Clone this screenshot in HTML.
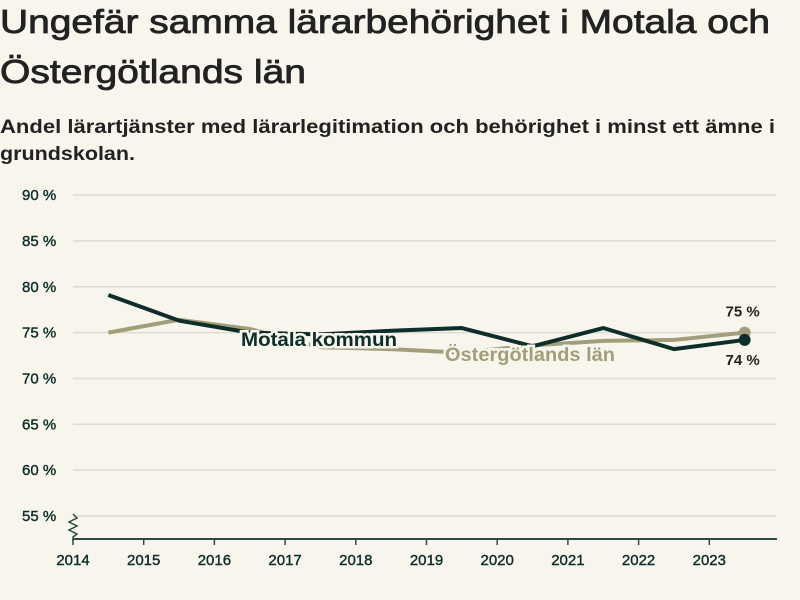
<!DOCTYPE html>
<html><head><meta charset="utf-8"><style>
html,body{margin:0;padding:0;background:#f8f6ec;}
svg{display:block;font-family:"Liberation Sans",sans-serif;}
</style></head><body>
<svg width="800" height="600" viewBox="0 0 800 600">
<rect width="800" height="600" fill="#f8f6ec"/>
<text x="0" y="33" font-size="33" fill="#222" stroke="#222" stroke-width="0.8" textLength="770" lengthAdjust="spacingAndGlyphs">Ungefär samma lärarbehörighet i Motala och</text>
<text x="0" y="83" font-size="33" fill="#222" stroke="#222" stroke-width="0.8" textLength="306" lengthAdjust="spacingAndGlyphs">Östergötlands län</text>
<text x="0" y="133" font-size="19" font-weight="bold" fill="#222" textLength="775" lengthAdjust="spacingAndGlyphs">Andel lärartjänster med lärarlegitimation och behörighet i minst ett ämne i</text>
<text x="0" y="160" font-size="19" font-weight="bold" fill="#222" textLength="135" lengthAdjust="spacingAndGlyphs">grundskolan.</text>
<g id="grid"></g>
<g id="axis"></g>
<g id="lines"></g>
<g id="labels"></g>
</svg>
<script>
const years = [2014,2015,2016,2017,2018,2019,2020,2021,2022,2023];
const yTicks = [55,60,65,70,75,80,85,90];
const motala = [79.1,76.3,75.0,74.8,75.2,75.5,73.5,75.5,73.2,74.2];
const ostergotland = [75.0,76.4,75.4,73.4,73.2,72.8,73.6,74.1,74.2,75.0];
const seriesNames = ["Motala kommun","Östergötlands län"];
const endLabels = ["74 %","75 %"];

const NS="http://www.w3.org/2000/svg";
function X(yr){return 73+(yr-2014)*70.7;}
function Y(v){return 516-(v-55)*9.17;}
function mk(tag,attrs,parent){const e=document.createElementNS(NS,tag);for(const k in attrs)e.setAttribute(k,attrs[k]);parent.appendChild(e);return e;}
const grid=document.getElementById('grid'),axis=document.getElementById('axis'),lines=document.getElementById('lines'),labels=document.getElementById('labels');

yTicks.forEach(t=>{
  const l=mk('line',{x1:73,x2:776,y1:Y(t),y2:Y(t),stroke:'#dddbd3','stroke-width':1.5},grid);
  
  
  const tx=mk('text',{x:22,y:Y(t)+5,'font-size':15,fill:'#0d2e2a',stroke:'#0d2e2a','stroke-width':0.4},grid);
  tx.textContent=t+' %';
  
  
});
const ax=mk('line',{x1:73,x2:777,y1:539,y2:539,stroke:'#2d4a46','stroke-width':2},axis);


const zz=mk('path',{d:'M73 514 l4 4 l-8 4 l8 4 l-8 4 l8 4 l-4 3 v4',fill:'none',stroke:'#2d4a46','stroke-width':1.5},axis);


years.forEach(yr=>{
  const tk=mk('line',{x1:X(yr),x2:X(yr),y1:539,y2:545,stroke:'#2d4a46','stroke-width':1.5},axis);
  
  
  const tx=mk('text',{x:X(yr),y:565,'font-size':15,fill:'#0d2e2a',stroke:'#0d2e2a','stroke-width':0.4,'text-anchor':'middle'},axis);
  tx.textContent=yr;
  
  
});
function drawSeries(vals,color,name){
  const d=vals.map((v,i)=>(i?'L':'M')+X(years[i]+0.5)+' '+Y(v)).join(' ');
  const p=mk('path',{d:d,fill:'none',stroke:color,'stroke-width':4,'stroke-linejoin':'round'},lines);
  
  
  const last=vals.length-1;
  const c=mk('circle',{cx:X(years[last]+0.5),cy:Y(vals[last]),r:6,fill:color},lines);
  
  
}
drawSeries(ostergotland,'#a39e7a','ostergotland');
drawSeries(motala,'#0d2e2a','motala');

function lbl(txt,x,y,color,name,len){
  const t=mk('text',{x:x,y:y,'font-size':19,'font-weight':'bold',fill:color,stroke:'#f8f6ec','stroke-width':5,'paint-order':'stroke',textLength:len,lengthAdjust:'spacingAndGlyphs'},labels);
  t.textContent=txt;
  
  
}
lbl(seriesNames[0],241,346,'#0d2e2a','motala-series-label',156);
lbl(seriesNames[1],445,361,'#a39e7a','ostergotland-series-label',170);
const lastX=X(years[years.length-1]+0.5);
const e1=mk('text',{x:lastX-2,y:Y(motala[motala.length-1])+25,'font-size':15,'font-weight':'bold',fill:'#222','text-anchor':'middle'},labels);
e1.textContent=endLabels[0];


const e2=mk('text',{x:lastX-2,y:Y(ostergotland[ostergotland.length-1])-16,'font-size':15,'font-weight':'bold',fill:'#222','text-anchor':'middle'},labels);
e2.textContent=endLabels[1];


</script>
</body></html>
